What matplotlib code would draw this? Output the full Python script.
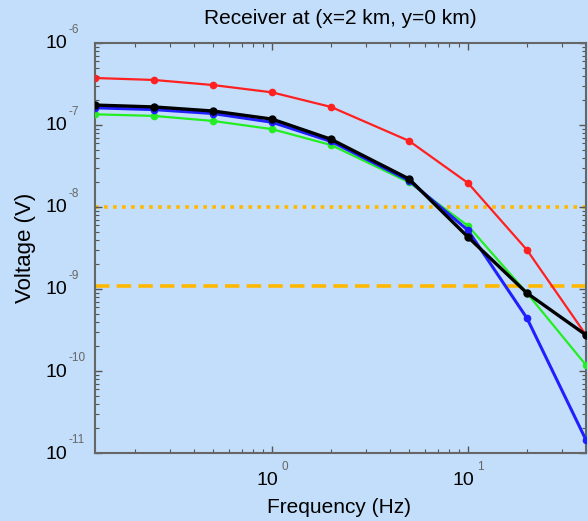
import math

import matplotlib
matplotlib.use("Agg")
import matplotlib.pyplot as plt
from matplotlib.ticker import LogLocator, NullFormatter, FixedLocator
from matplotlib.transforms import offset_copy

plt.rcParams["font.family"] = ["Liberation Sans", "DejaVu Sans"]

BG = "#c3defa"
AMBER = "#ffb800"

freq = [0.125, 0.25, 0.5, 1, 2, 5, 10, 20, 40]
red = [3.74e-7, 3.54e-7, 3.07e-7, 2.5e-7, 1.66e-7, 6.4e-8, 1.96e-8, 2.99e-9, 2.75e-10]
black = [1.75e-7, 1.66e-7, 1.48e-7, 1.18e-7, 6.7e-8, 2.2e-8, 4.3e-9, 8.9e-10, 2.75e-10]
blue = [1.62e-7, 1.54e-7, 1.38e-7, 1.08e-7, 6.3e-8, 2.1e-8, 5.2e-9, 4.4e-10, 1.44e-11]
green = [1.35e-7, 1.29e-7, 1.12e-7, 8.9e-8, 5.7e-8, 2.0e-8, 5.9e-9, 8.9e-10, 1.18e-10]
dotted_level = 1.0e-8
dashed_level = 1.1e-9

x_major = [1, 10]
y_major = [1e-11, 1e-10, 1e-9, 1e-8, 1e-7, 1e-6]

fig = plt.figure(figsize=(5.88, 5.21), dpi=100)
fig.patch.set_facecolor(BG)
ax = fig.add_axes([0.1616, 0.1305, 0.835, 0.787])
ax.set_facecolor(BG)

ax.axhline(dotted_level, color=AMBER, lw=2.6, ls=(0, (1.0, 1.5)), zorder=1)
ax.axhline(dashed_level, color=AMBER, lw=2.6, ls=(0, (4.0, 2.0)), zorder=1)

series = [(red, "#ff2020", 1.6, 4.5), (green, "#22ee22", 1.6, 4.5),
          (blue, "#2020ff", 2.2, 4.5), (black, "#000000", 2.4, 5)]
for vals, col, lw, ms in series:
    ax.plot(freq, vals, color=col, lw=lw, marker="o", ms=ms, zorder=3)

ax.set_xscale("log")
ax.set_yscale("log")
ax.set_xlim(0.125, 40)
ax.set_ylim(1e-11, 1e-6)

ax.xaxis.set_major_locator(FixedLocator(x_major))
ax.yaxis.set_major_locator(FixedLocator(y_major))
ax.xaxis.set_minor_locator(LogLocator(base=10, subs=range(2, 10), numticks=20))
ax.yaxis.set_minor_locator(LogLocator(base=10, subs=range(2, 10), numticks=20))
ax.xaxis.set_major_formatter(NullFormatter())
ax.yaxis.set_major_formatter(NullFormatter())
ax.xaxis.set_minor_formatter(NullFormatter())
ax.yaxis.set_minor_formatter(NullFormatter())

ax.tick_params(which="both", direction="in", top=True, right=True, color="#555555")
ax.tick_params(which="major", length=5, width=1.0)
ax.tick_params(which="minor", length=3, width=0.8)
for s in ax.spines.values():
    s.set_color("#666666")
    s.set_linewidth(1.5)

# tick labels drawn as base "10" plus a small grey exponent
ytr = ax.get_yaxis_transform()
for v in y_major:
    e = round(math.log10(v))
    ax.text(0, v, "10", transform=offset_copy(ytr, fig, x=-28, y=-1, units="dots"),
            ha="right", va="center", fontsize=14, clip_on=False)
    ax.text(0, v, str(e), transform=offset_copy(ytr, fig, x=-27, y=13, units="dots"),
            ha="left", va="center", fontsize=8.5, color="#666666", clip_on=False)

xtr = ax.get_xaxis_transform()
for v in x_major:
    e = round(math.log10(v))
    ax.text(v, 0, "10", transform=offset_copy(xtr, fig, x=-5, y=-27, units="dots"),
            ha="center", va="center", fontsize=14, clip_on=False)
    ax.text(v, 0, str(e), transform=offset_copy(xtr, fig, x=9, y=-14, units="dots"),
            ha="left", va="center", fontsize=8.5, color="#666666", clip_on=False)

fig.text(0.576, 0.025, "Frequency (Hz)", fontsize=15, ha="center", va="center")
fig.text(0.043, 0.524, "Voltage (V)", fontsize=16, ha="center", va="center", rotation=90)
fig.text(0.579, 0.965, "Receiver at (x=2 km, y=0 km)", fontsize=15, ha="center", va="center")

fig.savefig("out.png", dpi=100, facecolor=BG)
